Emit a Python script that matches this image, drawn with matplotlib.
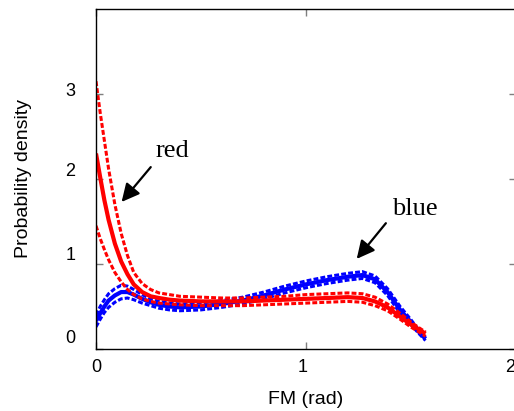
import matplotlib
matplotlib.use("Agg")
import matplotlib.pyplot as plt
import matplotlib.transforms as mtransforms

plt.rcParams["font.family"] = ["Liberation Sans", "DejaVu Sans"]

# sample points along FM (rad), 0 .. pi/2
fm = [0.0, 0.02, 0.04, 0.06, 0.09, 0.12, 0.15, 0.18, 0.22, 0.26, 0.30,
      0.35, 0.40, 0.50, 0.60, 0.70, 0.80, 0.90, 1.00, 1.10, 1.20, 1.27,
      1.33, 1.39, 1.45, 1.50, 1.54, 1.571]

red_mean = [2.30, 2.02, 1.75, 1.52, 1.24, 1.03, 0.88, 0.76, 0.67, 0.62, 0.60,
            0.58, 0.57, 0.56, 0.56, 0.56, 0.57, 0.58, 0.59, 0.60, 0.61, 0.60,
            0.56, 0.49, 0.38, 0.29, 0.23, 0.18]
red_upper = [3.15, 2.78, 2.45, 2.12, 1.70, 1.36, 1.10, 0.90, 0.77, 0.70, 0.66,
             0.64, 0.62, 0.61, 0.60, 0.60, 0.61, 0.62, 0.64, 0.65, 0.66, 0.65,
             0.61, 0.53, 0.42, 0.32, 0.25, 0.20]
red_lower = [1.45, 1.30, 1.17, 1.05, 0.90, 0.79, 0.70, 0.64, 0.59, 0.56, 0.54,
             0.53, 0.52, 0.51, 0.51, 0.51, 0.52, 0.53, 0.54, 0.55, 0.56, 0.55,
             0.51, 0.45, 0.35, 0.26, 0.20, 0.15]

blue_mean = [0.33, 0.42, 0.50, 0.57, 0.63, 0.67, 0.67, 0.64, 0.59, 0.55, 0.52,
             0.50, 0.49, 0.50, 0.53, 0.57, 0.63, 0.70, 0.76, 0.81, 0.85, 0.87,
             0.82, 0.67, 0.46, 0.32, 0.20, 0.12]
blue_upper = [0.40, 0.50, 0.58, 0.65, 0.71, 0.75, 0.74, 0.70, 0.64, 0.59, 0.56,
              0.54, 0.53, 0.54, 0.57, 0.61, 0.67, 0.74, 0.80, 0.85, 0.89, 0.91,
              0.86, 0.71, 0.50, 0.35, 0.22, 0.14]
blue_lower = [0.26, 0.35, 0.43, 0.49, 0.55, 0.59, 0.60, 0.58, 0.54, 0.51, 0.48,
              0.46, 0.45, 0.46, 0.49, 0.53, 0.59, 0.66, 0.72, 0.77, 0.81, 0.83,
              0.78, 0.63, 0.42, 0.29, 0.18, 0.10]

x_ticks = [0, 1, 2]
y_ticks = [0, 1, 2, 3]

W, H = 514, 411
fig = plt.figure(figsize=(W / 100, H / 100), dpi=100)
ax = fig.add_axes([96 / W, 62 / H, 419.5 / W, 340 / H])

dash = (0, (1.6, 0.7))
for mean, upper, lower, color in [(blue_mean, blue_upper, blue_lower, "#0000ff"),
                                  (red_mean, red_upper, red_lower, "#ff0000")]:
    ax.plot(fm, upper, color=color, lw=2.2, linestyle=dash)
    ax.plot(fm, lower, color=color, lw=2.2, linestyle=dash)
    ax.plot(fm, mean, color=color, lw=3.0, solid_capstyle="butt")

ax.set_xlim(0, 2)
ax.set_ylim(0, 4)
ax.set_xticks(x_ticks)
ax.set_yticks(y_ticks)
ax.tick_params(direction="in", length=5, width=1, color="#7f7f7f",
               top=True, right=True, labelsize=13, pad=7)
ax.tick_params(axis="y", pad=15)
for sp in ax.spines.values():
    sp.set_color("black")
    sp.set_linewidth(1.0)

ax.set_xlabel("FM (rad)", fontsize=14, labelpad=11)
ax.set_ylabel("Probability density", fontsize=14, labelpad=24)

ax.annotate("", xy=(0.122, 1.73), xytext=(0.261, 2.14),
            arrowprops=dict(arrowstyle="-|>", lw=1.6, color="black",
                            mutation_scale=27, shrinkA=0, shrinkB=0))
ax.annotate("", xy=(1.243, 1.06), xytext=(1.382, 1.48),
            arrowprops=dict(arrowstyle="-|>", lw=1.6, color="black",
                            mutation_scale=27, shrinkA=0, shrinkB=0))
ax.text(0.285, 2.26, "red", family="Liberation Serif", fontsize=19)
ax.text(1.41, 1.58, "blue", family="Liberation Serif", fontsize=19)

# nudge tick labels (pixel offsets)
fig.canvas.draw()
x_shift = [0.7, -2.7, -5.5]
y_shift = [13, 10, 9, 5]
for lab, dx in zip(ax.get_xticklabels(), x_shift):
    lab.set_transform(lab.get_transform() +
                      mtransforms.ScaledTranslation(dx / 100, 0, fig.dpi_scale_trans))
for lab, dy in zip(ax.get_yticklabels(), y_shift):
    lab.set_transform(lab.get_transform() +
                      mtransforms.ScaledTranslation(0, dy / 100, fig.dpi_scale_trans))

fig.savefig("out.png", dpi=100)
